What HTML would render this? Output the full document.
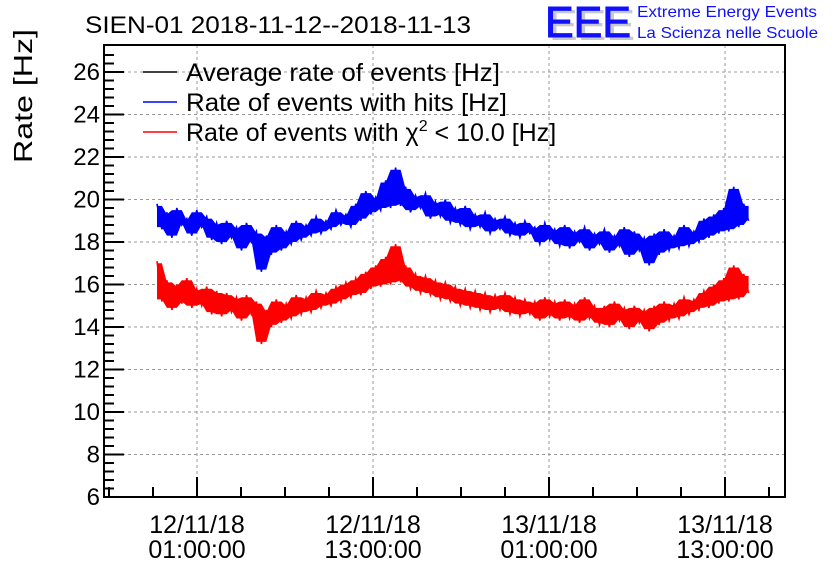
<!DOCTYPE html>
<html><head><meta charset="utf-8"><style>
body{margin:0;background:#fff}
svg{display:block;font-family:"Liberation Sans",sans-serif}
</style></head><body>
<svg id="c" width="836" height="572">
<text x="85" y="33" font-size="24" textLength="386" lengthAdjust="spacingAndGlyphs">SIEN-01 2018-11-12--2018-11-13</text>
<g>
<text x="549" y="40" font-size="44" fill="#c8c8c8" textLength="86" lengthAdjust="spacingAndGlyphs">EEE</text>
<text x="545" y="37" font-size="44" fill="#1010ff" textLength="86" lengthAdjust="spacingAndGlyphs" stroke="#1010ff" stroke-width="1">EEE</text>
</g>
<text x="637" y="17" font-size="16" fill="#1010ff" textLength="180" lengthAdjust="spacingAndGlyphs">Extreme Energy Events</text>
<text x="637" y="38" font-size="16" fill="#1010ff" textLength="181" lengthAdjust="spacingAndGlyphs">La Scienza nelle Scuole</text>
<text transform="translate(32,96) rotate(-90)" text-anchor="middle" font-size="26" textLength="134" lengthAdjust="spacingAndGlyphs">Rate [Hz]</text>
<g id="grid"></g><g id="series"></g><g id="axes"></g>
<g>
<line x1="143" y1="72" x2="177" y2="72" stroke="#000" stroke-width="1.5"/><text x="186" y="81" font-size="25" textLength="314" lengthAdjust="spacingAndGlyphs">Average rate of events [Hz]</text>
<line x1="143" y1="102" x2="177" y2="102" stroke="#00f" stroke-width="1.5"/><text x="186" y="111" font-size="25" textLength="321" lengthAdjust="spacingAndGlyphs">Rate of events with hits [Hz]</text>
<line x1="143" y1="132" x2="177" y2="132" stroke="#f00" stroke-width="1.5"/><text x="186" y="141" font-size="25">Rate of events with χ<tspan dy="-10" font-size="16">2</tspan><tspan dy="10"> &lt; 10.0 [Hz]</tspan></text>
</g>
</svg>
<script>
const startHour=-1.73, stepHour=0.339;
const blueValues=[19.8,18.6,19.4,18.2,19.6,18.8,19.1,18.3,19.5,18.7,19.2,18.1,18.9,17.9,19.0,18.2,18.7,17.6,18.9,18.0,18.5,16.6,18.3,17.4,18.8,17.6,18.5,17.9,19.0,18.1,18.8,18.3,19.2,18.4,19.0,18.6,19.5,18.8,19.3,18.7,19.8,19.0,20.4,19.3,20.1,19.5,20.9,19.6,21.5,19.7,20.6,19.4,20.2,19.6,20.3,19.1,19.9,19.2,20.0,18.9,19.6,18.8,19.7,18.6,19.3,18.7,19.4,18.4,19.1,18.6,19.2,18.3,18.9,18.2,19.0,18.4,18.7,17.9,18.9,18.1,18.6,17.8,18.8,17.7,18.5,18.0,18.7,17.6,18.4,17.9,18.6,17.5,18.3,17.8,18.7,17.3,18.5,17.6,18.2,16.9,18.4,17.4,18.6,17.6,18.3,17.7,18.8,17.8,18.5,18.0,19.1,18.2,19.3,18.4,19.6,18.5,20.6,18.7,19.8,19.0];
const redValues=[17.1,15.2,16.2,14.8,16.0,15.1,16.3,14.9,15.8,15.0,15.9,14.6,15.7,14.5,15.6,14.7,15.4,14.3,15.5,14.6,15.2,13.2,14.8,14.0,15.3,14.2,15.1,14.4,15.5,14.6,15.4,14.7,15.7,14.9,15.6,15.0,15.9,15.2,16.1,15.4,16.3,15.5,16.6,15.8,16.9,15.9,17.3,16.0,17.9,16.1,16.9,15.8,16.5,15.6,16.4,15.5,16.2,15.3,16.1,15.2,15.9,15.0,15.8,14.9,15.7,14.8,15.6,14.7,15.5,14.8,15.6,14.6,15.4,14.5,15.3,14.6,15.2,14.3,15.4,14.5,15.2,14.3,15.3,14.4,15.1,14.2,15.4,14.4,15.0,14.1,15.0,14.0,15.2,14.3,14.9,13.9,15.0,14.2,14.8,13.8,15.0,14.1,15.2,14.3,15.1,14.4,15.4,14.6,15.3,14.8,15.7,14.9,16.0,15.1,16.3,15.2,16.9,15.3,16.5,15.6];
const yTicks=[6,8,10,12,14,16,18,20,22,24,26];
const xTickHours=[1,13,25,37];
const xTickDates=["12/11/18","12/11/18","13/11/18","13/11/18"];
const xTickTimes=["01:00:00","13:00:00","01:00:00","13:00:00"];
const L=104,R=785,T=45,B=497;
const X=h=>197+(h-1)*14.667, Y=v=>497-(v-6)*21.25;
const NS="http://www.w3.org/2000/svg";
function mk(p,tag,a){const e=document.createElementNS(NS,tag);for(const k in a)e.setAttribute(k,a[k]);p.appendChild(e);return e;}
const grid=document.getElementById('grid'),axes=document.getElementById('axes'),ser=document.getElementById('series');
yTicks.forEach(v=>{const y=Y(v);
 const g=mk(grid,'line',{x1:L,x2:R,y1:y,y2:y,stroke:'#999','stroke-dasharray':'3,3','stroke-width':1});
 
 
 mk(axes,'line',{x1:L,x2:L+20,y1:y,y2:y,stroke:'#000','stroke-width':2});
 const t=mk(axes,'text',{x:L-4,y:y+8,'text-anchor':'end','font-size':24});t.textContent=v;
 
 
});
for(let k=0;k<=105;k++){const v=6+k*0.4;if(k%5&&v<27.2)mk(axes,'line',{x1:L,x2:L+10,y1:Y(v),y2:Y(v),stroke:'#000','stroke-width':2});}
for(let h=-5;h<=44;h+=3){const x=X(h);if(x>L+2&&x<R-2)mk(axes,'line',{x1:x,x2:x,y1:B,y2:B-10,stroke:'#000','stroke-width':2});}
xTickHours.forEach((h,i)=>{const x=X(h);
 const g=mk(grid,'line',{x1:x,x2:x,y1:T,y2:B,stroke:'#999','stroke-dasharray':'3,3','stroke-width':1});
 
 
 mk(axes,'line',{x1:x,x2:x,y1:B,y2:B-20,stroke:'#000','stroke-width':2});
 const t=mk(axes,'text',{x:x,y:533,'text-anchor':'middle','font-size':25});t.textContent=xTickDates[i];
 
 
 const t2=mk(axes,'text',{x:x,y:558,'text-anchor':'middle','font-size':25});t2.textContent=xTickTimes[i];
 
 
});
const fr=mk(axes,'rect',{x:L,y:T,width:R-L,height:B-T,fill:'none',stroke:'#000','stroke-width':2});


function line(vals,col,name){
 const xs=vals.map((v,i)=>X(startHour+i*stepHour));
 const n=vals.length;
 const win=i=>[vals[Math.max(0,i-1)],vals[i],vals[Math.min(n-1,i+1)]];
 const up=vals.map((v,i)=>Math.max(...win(i))-0.1);
 const lo=vals.map((v,i)=>Math.min(...win(i))+0.1);
 const band=xs.map((x,i)=>x.toFixed(1)+','+Y(up[i]).toFixed(1)).concat(xs.map((x,i)=>x.toFixed(1)+','+Y(lo[i]).toFixed(1)).reverse()).join(' ');
 const b=mk(ser,'polygon',{points:band,fill:col,stroke:'none'});
 
 
 const pts=vals.map((v,i)=>xs[i].toFixed(1)+','+Y(v).toFixed(1)).join(' ');
 const p=mk(ser,'polyline',{points:pts,fill:'none',stroke:col,'stroke-width':1.6});
 
 }
line(blueValues,'#00f','series-hits');
line(redValues,'#f00','series-chi2');
</script>
</body></html>
